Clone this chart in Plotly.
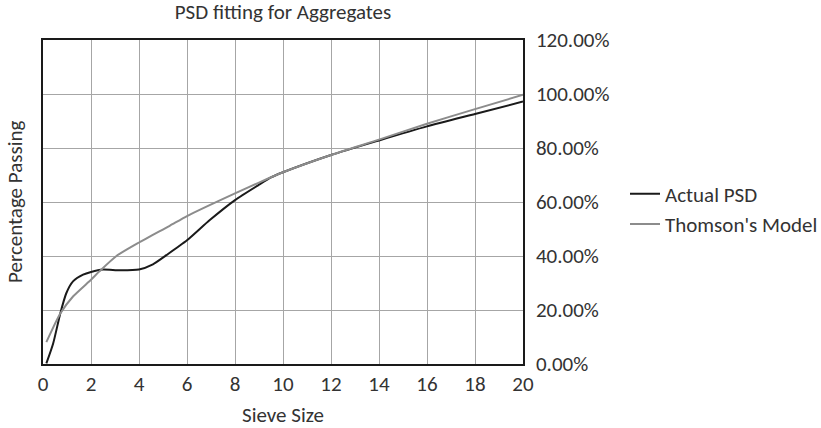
import plotly.graph_objects as go

# Sieve size vs. cumulative percentage passing
actual_size = [0.14, 0.42, 0.72, 0.97, 1.25, 1.67, 2.0, 2.5, 3.2, 4.0, 4.58, 5.14,
               6.0, 6.95, 8.0, 9.0, 9.5, 10.0, 12.0, 14.0, 16.0, 18.0, 20.0]
actual_pass = [0.2, 7.5, 18.7, 26.2, 30.6, 33.1, 34.1, 35.0, 34.7, 35.0, 36.9, 40.3,
               45.8, 53.3, 60.7, 66.4, 69.1, 71.0, 77.4, 82.8, 88.0, 92.6, 97.2]

model_size = [0.14, 0.72, 1.25, 2.0, 2.35, 3.06, 4.0, 5.28, 6.0, 8.0, 9.0, 10.0,
              12.0, 14.0, 16.0, 18.0, 20.0]
model_pass = [8.1, 18.7, 25.0, 31.2, 34.3, 40.0, 45.0, 51.2, 54.8, 63.2, 67.2, 71.0,
              77.4, 83.1, 89.0, 94.4, 99.7]

x_ticks = list(range(0, 21, 2))
y_ticks = list(range(0, 121, 20))
y_tick_text = [f"{v:.2f}%" for v in y_ticks]

FONT = "Carlito, Lato, sans-serif"
TEXT = "#333333"
SIZE = 21

fig = go.Figure()
fig.add_trace(go.Scatter(x=actual_size, y=actual_pass, mode="lines", name="Actual PSD",
                         line=dict(color="#1a1a1a", width=2, shape="spline", smoothing=0.6)))
fig.add_trace(go.Scatter(x=model_size, y=model_pass, mode="lines", name="Thomson's Model",
                         line=dict(color="#8c8c8c", width=2, shape="spline", smoothing=0.6)))

fig.update_layout(
    width=821, height=428,
    margin=dict(l=43, r=298, t=40, b=64, autoexpand=False),
    paper_bgcolor="white", plot_bgcolor="white",
    font=dict(family=FONT, size=SIZE, color=TEXT),
    title=dict(text="PSD fitting for Aggregates", x=0.5, xref="paper",
               y=1 - 12 / 428, yanchor="middle", font=dict(size=SIZE, color=TEXT)),
    legend=dict(xref="container", yref="container", x=625 / 821, xanchor="left",
                y=1 - 209 / 428, yanchor="middle",
                font=dict(size=SIZE, color=TEXT), tracegroupgap=0, itemwidth=30,
                bgcolor="rgba(0,0,0,0)"),
    xaxis=dict(range=[0, 20], tickvals=x_ticks, showgrid=True, gridcolor="#a6a6a6",
               gridwidth=1, showline=True, linecolor="#1a1a1a", linewidth=1.5,
               mirror=True, zeroline=False, ticks="", ticklabelstandoff=0,
               automargin=False, tickfont=dict(size=SIZE, color=TEXT),
               title=dict(text="Sieve Size", standoff=13, font=dict(size=SIZE, color=TEXT))),
    yaxis=dict(range=[0, 120], tickvals=y_ticks, ticktext=y_tick_text, side="right",
               showgrid=True, gridcolor="#a6a6a6", gridwidth=1,
               showline=True, linecolor="#1a1a1a", linewidth=1.5, mirror=True,
               zeroline=False, ticks="", ticklabelstandoff=7, automargin=False,
               tickfont=dict(size=SIZE, color=TEXT)),
    annotations=[dict(text="Percentage Passing", textangle=-90, xref="paper", yref="paper",
                      x=(15 - 43) / 480, y=0.5, xanchor="center", yanchor="middle",
                      showarrow=False, font=dict(size=SIZE, color=TEXT))],
)

fig.write_html("out.html")
